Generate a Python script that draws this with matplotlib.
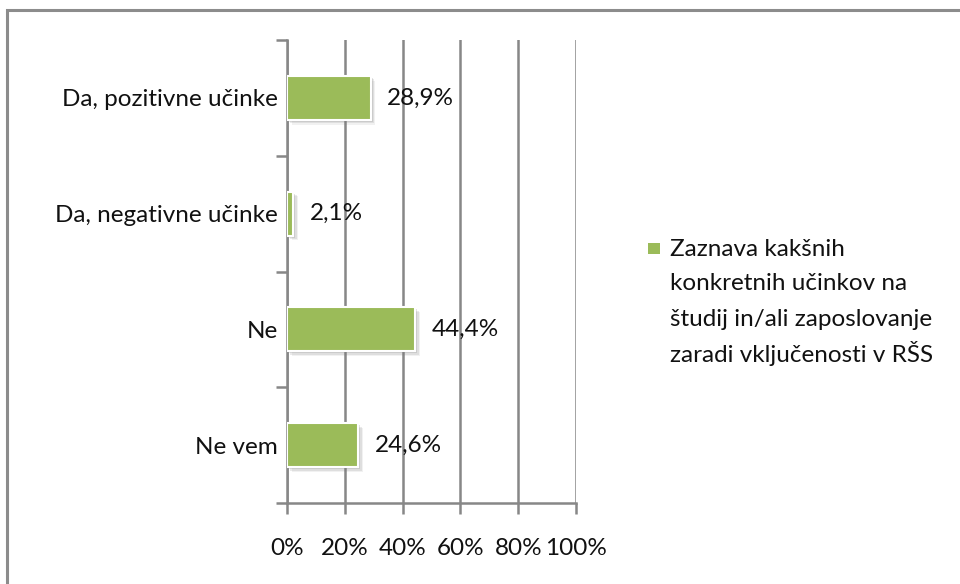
import matplotlib
matplotlib.use("Agg")
import matplotlib.pyplot as plt
import matplotlib.patheffects as pe
from matplotlib.patches import Rectangle

plt.rcParams["font.family"] = ["Lato", "DejaVu Sans"]

categories = ["Da, pozitivne učinke", "Da, negativne učinke", "Ne", "Ne vem"]
values = [28.9, 2.1, 44.4, 24.6]
series_lines = ["Zaznava kakšnih", "konkretnih učinkov na",
                "študij in/ali zaposlovanje", "zaradi vključenosti v RŠS"]
x_ticks = [0, 20, 40, 60, 80, 100]

BAR = "#9BBB59"
GRID = "#878787"
INK = "#111111"
FS = 17.5

fig = plt.figure(figsize=(9.6, 5.84), dpi=100, facecolor="white")
ax = fig.add_axes([287 / 960, 81 / 584, 289 / 960, 463 / 584])

# outer chart frame, running off the right and bottom edges
fig.patches.append(Rectangle((7 / 960, -0.05), 1.0, (584 - 10) / 584 + 0.05,
                             transform=fig.transFigure, fill=False,
                             edgecolor="#8c8c8c", linewidth=2.2))

pos = list(range(len(categories)))[::-1]
# layered soft shadow below/right of each bar
shadow = [pe.SimplePatchShadow(offset=(o, -o), shadow_rgbFace="#777777", alpha=a)
          for o, a in [(3.5, 0.10), (2.5, 0.15), (1.5, 0.2)]] + [pe.Normal()]
bars = ax.barh(pos, values, height=0.38, color=BAR, edgecolor="white",
               linewidth=1.5, zorder=3)
for b in bars:
    b.set_path_effects(shadow)

for p, v in zip(pos, values):
    ax.annotate(f"{v:.1f}%".replace(".", ","), (v, p), xytext=(12, 0),
                textcoords="offset points", va="center", ha="left",
                fontsize=FS, color=INK, zorder=4)

ax.set_xlim(0, 100)
ax.set_ylim(-0.5, len(categories) - 0.5)
ax.set_xticks(x_ticks)
ax.set_xticklabels([f"{t}%" for t in x_ticks], fontsize=FS, color=INK)
ax.xaxis.grid(True, color=GRID, linewidth=1.8, zorder=0)

# category ticks sit on the boundaries between bands
ax.set_yticks([i - 0.5 for i in range(len(categories) + 1)])
ax.set_yticklabels([])
ax.set_yticks(pos, minor=True)
ax.set_yticklabels(categories, minor=True, fontsize=FS, color=INK)
ax.tick_params(axis="y", which="minor", length=0, pad=6.5)
ax.tick_params(axis="y", which="major", length=8, width=1.8, color=GRID, direction="out")
ax.tick_params(axis="x", length=8, width=1.8, color=GRID, direction="out", pad=17)

for s in ["top", "right"]:
    ax.spines[s].set_visible(False)
for s in ["left", "bottom"]:
    ax.spines[s].set_color(GRID)
    ax.spines[s].set_linewidth(1.8)

# legend drawn by hand so the swatch lines up with the first text line
fig.patches.append(Rectangle((648 / 960, 1 - 254 / 584), 12 / 960, 11 / 584,
                             transform=fig.transFigure, facecolor=BAR, edgecolor="none"))
for i, line in enumerate(series_lines):
    fig.text(670 / 960, 1 - (247 + 35 * i) / 584, line, fontsize=FS, color=INK,
             va="center_baseline", ha="left")

fig.savefig("out.png", dpi=100, facecolor="white")
